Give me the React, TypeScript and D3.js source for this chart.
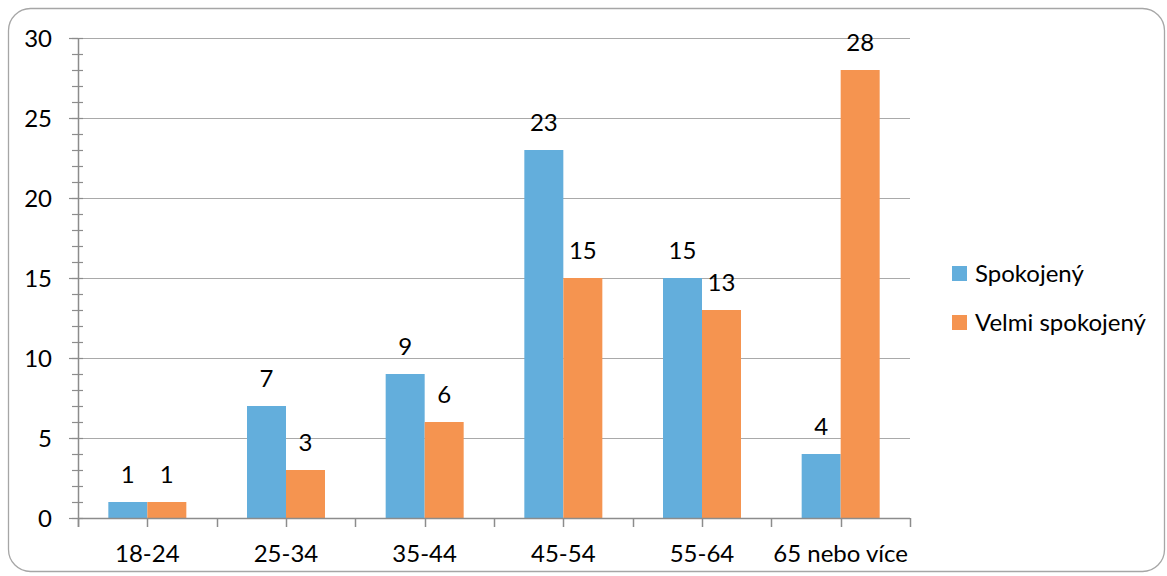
import React from "react";
import * as d3 from "d3";

const categories = ["18-24", "25-34", "35-44", "45-54", "55-64", "65 nebo více"];
const seriesNames = ["Spokojený", "Velmi spokojený"];
const spokojeny = [1, 7, 9, 23, 15, 4];
const velmiSpokojeny = [1, 3, 6, 15, 13, 28];
const yTicks = [0, 5, 10, 15, 20, 25, 30];
const colors = ["#63AEDC", "#F59450"];

const W = 1167;
const H = 576;
const FONT = "Lato, 'Open Sans', sans-serif";

export default function App() {
  const left = 78, right = 910, top = 38, bottom = 518;
  const x = d3.scaleBand<string>().domain(categories).range([left, right]);
  const y = d3.scaleLinear().domain([0, 30]).range([bottom, top]);
  const barW = 39;
  const series = [spokojeny, velmiSpokojeny];
  const minor = d3.range(0, 31, 1);
  const halfTicks = d3.range(0, categories.length * 2 + 1).map(
    (i) => left + (i * x.step()) / 2
  );
  const fs = 24;

  return (
    <svg width={W} height={H} style={{ position: "absolute", left: 0, top: 0, background: "#fff" }}>
      <rect x={8.5} y={8.5} width={1156} height={563} rx={22} ry={22} fill="#fff" stroke="#a6a6a6" strokeWidth={1.3} />
      {/* gridlines */}
      {yTicks.filter((t) => t > 0).map((t) => (
        <line key={"g" + t} x1={left} x2={right} y1={Math.round(y(t)) + 0.5} y2={Math.round(y(t)) + 0.5} stroke="#a9a9a9" strokeWidth={1} />
      ))}
      {/* bars */}
      {series.map((s, si) =>
        s.map((v, i) => {
          const cx = (x(categories[i]) as number) + x.bandwidth() / 2;
          const bx = si === 0 ? cx - barW : cx;
          return (
            <rect key={si + "-" + i} x={bx} y={y(v)} width={barW} height={y(0) - y(v)} fill={colors[si]} />
          );
        })
      )}
      {/* value labels */}
      {series.map((s, si) =>
        s.map((v, i) => {
          const cx = (x(categories[i]) as number) + x.bandwidth() / 2;
          const lx = si === 0 ? cx - barW / 2 : cx + barW / 2;
          return (
            <text key={"l" + si + "-" + i} x={lx} y={y(v) - 19} textAnchor="middle" fontFamily={FONT} fontSize={fs} fill="#000">
              {v}
            </text>
          );
        })
      )}
      {/* y axis */}
      <line x1={left + 0.5} x2={left + 0.5} y1={top} y2={bottom + 9} stroke="#8c8c8c" strokeWidth={1.5} />
      {minor.map((m) => (
        <line key={"m" + m} x1={left - 6} x2={left + 5} y1={Math.round(y(m)) + 0.5} y2={Math.round(y(m)) + 0.5} stroke="#8c8c8c" strokeWidth={1.2} />
      ))}
      {yTicks.map((t) => (
        <g key={"yt" + t}>
          <line x1={left - 9} x2={left} y1={Math.round(y(t)) + 0.5} y2={Math.round(y(t)) + 0.5} stroke="#8c8c8c" strokeWidth={1.2} />
          <text x={52} y={y(t)} dy="0.36em" textAnchor="end" fontFamily={FONT} fontSize={fs} fill="#000">
            {t}
          </text>
        </g>
      ))}
      {/* x axis */}
      <line x1={left} x2={right} y1={bottom + 0.5} y2={bottom + 0.5} stroke="#8c8c8c" strokeWidth={1.5} />
      {halfTicks.map((tx, i) => (
        <line key={"xt" + i} x1={Math.round(tx) + 0.5} x2={Math.round(tx) + 0.5} y1={bottom} y2={bottom + 9} stroke="#8c8c8c" strokeWidth={1.5} />
      ))}
      {categories.map((c) => (
        <text key={"xc" + c} x={(x(c) as number) + x.bandwidth() / 2} y={562} textAnchor="middle" fontFamily={FONT} fontSize={fs} fill="#000">
          {c}
        </text>
      ))}
      {/* legend */}
      {seriesNames.map((n, i) => (
        <g key={"lg" + n}>
          <rect x={952} y={266 + i * 49} width={15} height={15} fill={colors[i]} />
          <text x={975} y={273 + i * 49} dy="0.36em" fontFamily={FONT} fontSize={fs} fill="#000">
            {n}
          </text>
        </g>
      ))}
    </svg>
  );
}
